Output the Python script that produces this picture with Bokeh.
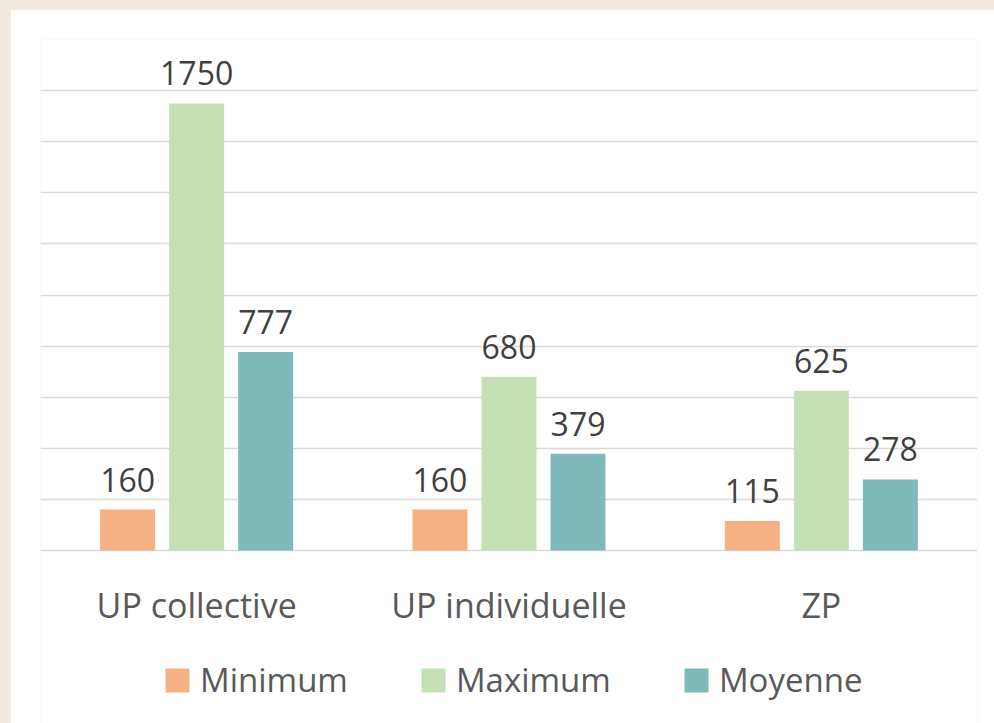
from bokeh.plotting import figure
from bokeh.models import ColumnDataSource, FactorRange, Range1d, FixedTicker, Legend, LegendItem
from bokeh.transform import dodge
from bokeh.core.properties import value
from bokeh.embed import file_html
from bokeh.resources import INLINE

categories = ["UP collective", "UP individuelle", "ZP"]
series_names = ["Minimum", "Maximum", "Moyenne"]
minimum = [160, 160, 115]
maximum = [1750, 680, 625]
moyenne = [777, 379, 278]
y_ticks = [0, 200, 400, 600, 800, 1000, 1200, 1400, 1600, 1800, 2000]

colors = ["#F4B183", "#C5E0B4", "#7FB9BA"]
offsets = [-0.221, 0.0, 0.221]
FONT = "Open Sans"

# layout: 511 px between value 0 and value 2000; the frame continues 173 px below the zero line
PLOT_PX = 511
BELOW_PX = 173
y_top = y_ticks[-1]
y_bottom = -BELOW_PX * (y_top - y_ticks[0]) / PLOT_PX

src = ColumnDataSource(dict(cat=categories, Minimum=minimum, Maximum=maximum, Moyenne=moyenne,
                            lab_min=[str(v) for v in minimum],
                            lab_max=[str(v) for v in maximum],
                            lab_moy=[str(v) for v in moyenne]))

p = figure(frame_width=937, frame_height=PLOT_PX + BELOW_PX, x_range=FactorRange(*categories),
           y_range=Range1d(y_bottom, y_top),
           output_backend="svg", toolbar_location=None,
           min_border_left=30, min_border_right=17, min_border_top=30, min_border_bottom=0,
           background_fill_color="white", border_fill_color="white", outline_line_color=None)
p.margin = (9, 0, 0, 10)

p.yaxis.visible = False
p.xgrid.grid_line_color = None
p.ygrid.ticker = FixedTicker(ticks=y_ticks)
p.ygrid.grid_line_color = "#D9D9D9"
p.ygrid.grid_line_width = 1.5

ax = p.xaxis[0]
ax.fixed_location = 0
ax.axis_line_color = None
ax.major_tick_line_color = None
ax.minor_tick_line_color = None
ax.major_tick_out = 0
ax.major_tick_in = 0
ax.major_label_standoff = 31
ax.major_label_text_font = FONT
ax.major_label_text_font_size = "34px"
ax.major_label_text_color = "#595959"

renderers = []
lab_cols = ["lab_min", "lab_max", "lab_moy"]
for name, col, off, lab in zip(series_names, colors, offsets, lab_cols):
    r = p.vbar(x=dodge("cat", off, range=p.x_range), bottom=0, top=name, width=0.176, source=src,
               fill_color=col, line_color=None)
    renderers.append(r)
    p.text(x=dodge("cat", off, range=p.x_range), y=name, text=lab, source=src,
           text_align="center", text_baseline="alphabetic", y_offset=-30,
           text_font=value(FONT), text_font_size="32px", text_color="#404040")

legend = Legend(items=[LegendItem(label=n, renderers=[r]) for n, r in zip(series_names, renderers)],
                orientation="horizontal", location=(122, 21),
                glyph_width=30, glyph_height=30, label_height=30, label_standoff=8, spacing=70,
                label_text_font=FONT, label_text_font_size="33px", label_text_color="#595959",
                border_line_color=None, background_fill_alpha=0, padding=0, margin=0)
p.add_layout(legend, "center")

html = file_html(p, INLINE)
html = html.replace("</head>",
                    "<style>html, body { background-color: #F2E9E0; overflow: hidden; }</style>\n</head>", 1)
open("out.html", "w").write(html)
